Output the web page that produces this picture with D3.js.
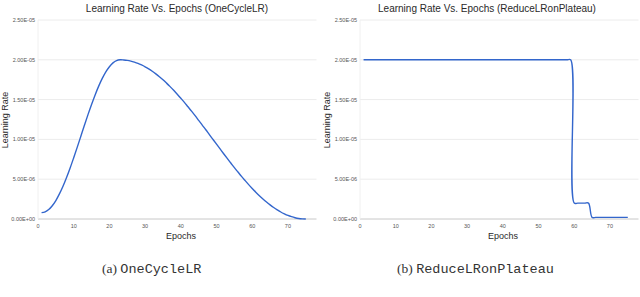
<!DOCTYPE html>
<head>
<meta charset="utf-8">
<title>Learning Rate Vs. Epochs</title>
<style>
    body { margin:0; background:#fff; }
    svg { display:block; }
    text { font-family: "Liberation Sans", Arial, sans-serif; }
</style>
</head>
<body>
<svg width="640" height="297"></svg>

<script src="https://cdnjs.cloudflare.com/ajax/libs/d3/7.8.5/d3.min.js"></script>
<script>
// epochs 1..75, learning rate in units of 1e-6
var epochs = d3.range(1, 76);
var oneCycle = [
  0.80, 0.90, 1.19, 1.67, 2.32, 3.15, 4.11, 5.21, 6.41, 7.70,
  9.03, 10.40, 11.77, 13.11, 14.39, 15.59, 16.69, 17.66, 18.48, 19.13,
  19.61, 19.90, 20.00, 19.98, 19.93, 19.84, 19.71, 19.55, 19.35, 19.12,
  18.86, 18.56, 18.23, 17.87, 17.49, 17.07, 16.63, 16.17, 15.68, 15.17,
  14.65, 14.10, 13.55, 12.98, 12.39, 11.80, 11.21, 10.60, 10.00, 9.40,
  8.80, 8.20, 7.61, 7.03, 6.45, 5.90, 5.35, 4.83, 4.32, 3.83,
  3.37, 2.93, 2.52, 2.13, 1.77, 1.44, 1.15, 0.88, 0.65, 0.45,
  0.29, 0.16, 0.07, 0.02, 0.00
];
var plateau = [
  20, 20, 20, 20, 20, 20, 20, 20, 20, 20,
  20, 20, 20, 20, 20, 20, 20, 20, 20, 20,
  20, 20, 20, 20, 20, 20, 20, 20, 20, 20,
  20, 20, 20, 20, 20, 20, 20, 20, 20, 20,
  20, 20, 20, 20, 20, 20, 20, 20, 20, 20,
  20, 20, 20, 20, 20, 20, 20, 20, 20, 2,
  2, 2, 2, 2, 0.2, 0.2, 0.2, 0.2, 0.2, 0.2,
  0.2, 0.2, 0.2, 0.2, 0.2
];
var unit = 1e-6;
var yTicks = [0, 5e-6, 1e-5, 1.5e-5, 2e-5, 2.5e-5];
var xTicks = [0, 10, 20, 30, 40, 50, 60, 70];

var charts = [
  { title: "Learning Rate Vs. Epochs (OneCycleLR)", values: oneCycle, x0: 38, titleX: 177, xTitleX: 181,
    tag: "(a)", name: "OneCycleLR", capX: 102 },
  { title: "Learning Rate Vs. Epochs (ReduceLRonPlateau)", values: plateau, x0: 360, titleX: 487, xTitleX: 503,
    tag: "(b)", name: "ReduceLRonPlateau", capX: 397 }
];

var svg = d3.select("svg");

function sci(v){
  if (v === 0) return "0.00E+00";
  var s = v.toExponential(2).toUpperCase().split("E");
  var e = parseInt(s[1], 10);
  return s[0] + "E" + (e < 0 ? "-" : "+") + (Math.abs(e) < 10 ? "0" : "") + Math.abs(e);
}

charts.forEach(function(c){
  var x = d3.scaleLinear().domain([0, 78]).range([c.x0, c.x0 + 278.5]);
  var y = d3.scaleLinear().domain([0, 2.5e-5]).range([219, 20]);
  var g = svg.append("g");

  // grid
  g.selectAll(".grid").data(yTicks).enter().append("line")
    .attr("x1", x(0)).attr("x2", x(78))
    .attr("y1", function(d){ return y(d); }).attr("y2", function(d){ return y(d); })
    .attr("stroke", function(d){ return d === 0 ? "#c8c8c8" : "#ececec"; })
    .attr("stroke-width", 1);
  g.append("line").attr("x1", x(0)).attr("x2", x(0)).attr("y1", y(2.5e-5)).attr("y2", y(0))
    .attr("stroke", "#f0f0f0");

  // y tick labels
  g.selectAll(".yl").data(yTicks).enter().append("text")
    .attr("x", x(0) - 3).attr("y", function(d){ return y(d) + 2; })
    .attr("text-anchor", "end").attr("font-size", 5.5).attr("fill", "#555")
    .text(sci);

  // x tick labels
  g.selectAll(".xl").data(xTicks).enter().append("text")
    .attr("x", function(d){ return x(d); }).attr("y", 228)
    .attr("text-anchor", "middle").attr("font-size", 5.5).attr("fill", "#555")
    .text(function(d){ return d; });

  // line
  var line = d3.line()
    .x(function(d, i){ return x(epochs[i]); })
    .y(function(d){ return y(d * unit); })
    .curve(d3.curveCatmullRom.alpha(0.5));
  g.append("path").datum(c.values)
    .attr("d", line).attr("fill", "none")
    .attr("stroke", "#3366cc").attr("stroke-width", 1.4);

  // titles
  g.append("text").attr("x", c.titleX).attr("y", 11.5)
    .attr("text-anchor", "middle").attr("font-size", 10).attr("fill", "#2a2a2a")
    .text(c.title);
  g.append("text").attr("x", c.xTitleX).attr("y", 239)
    .attr("text-anchor", "middle").attr("font-size", 9).attr("fill", "#2a2a2a")
    .text("Epochs");
  g.append("text")
    .attr("transform", "translate(" + (c.x0 - 30) + ",120) rotate(-90)")
    .attr("text-anchor", "middle").attr("font-size", 9).attr("fill", "#2a2a2a")
    .text("Learning Rate");

  // caption
  var cap = svg.append("text").attr("x", c.capX).attr("y", 272.5).attr("font-size", 13.5).attr("fill", "#333");
  cap.append("tspan").attr("font-family", "'Liberation Serif', serif").text(c.tag + " ");
  cap.append("tspan").attr("font-family", "'Liberation Mono', monospace").text(c.name);
});
</script>
</body>
